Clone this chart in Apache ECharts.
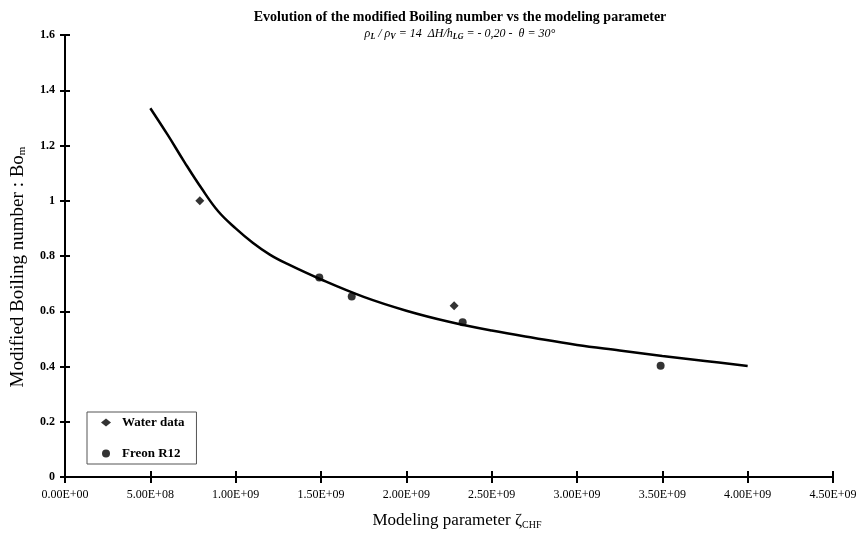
<!DOCTYPE html>
<html><head><meta charset="utf-8">
<script src="https://cdn.jsdelivr.net/npm/echarts@6/dist/echarts.min.js"></script>
<style>html,body{margin:0;padding:0;background:#fff}#c{width:864px;height:542px}</style>
</head><body><div id="c"></div>
<script>
// Correlation curve (modeling parameter, Bo_m)
const curveX = [5.0e8, 6.0e8, 7.0e8, 8.0e8, 9.0e8, 1.0e9, 1.1e9, 1.2e9, 1.3e9, 1.5e9, 1.75e9, 2.0e9, 2.25e9, 2.5e9, 2.75e9, 3.0e9, 3.25e9, 3.5e9, 3.75e9, 4.0e9];
const curveY = [1.335, 1.24, 1.14, 1.045, 0.96, 0.90, 0.848, 0.805, 0.772, 0.715, 0.652, 0.602, 0.562, 0.530, 0.503, 0.478, 0.458, 0.438, 0.420, 0.402];
// Water data
const waterX = [7.9e8, 2.28e9];
const waterY = [1.0, 0.62];
// Freon R12
const freonX = [1.49e9, 1.68e9, 2.33e9, 3.49e9];
const freonY = [0.722, 0.653, 0.56, 0.403];
// Axis ticks
const xTicks = [0, 5e8, 1e9, 1.5e9, 2e9, 2.5e9, 3e9, 3.5e9, 4e9, 4.5e9];
const yTicks = [0, 0.2, 0.4, 0.6, 0.8, 1, 1.2, 1.4, 1.6];

function fmtE(v){
  if (v === 0) return '0.00E+00';
  const e = Math.floor(Math.log10(Math.abs(v)) + 1e-9);
  const m = v / Math.pow(10, e);
  return m.toFixed(2) + 'E+' + String(e).padStart(2, '0');
}
const zip = (a, b) => a.map((v, i) => [v, b[i]]);
const F = 'Liberation Serif, Times New Roman, serif';

const axisCommon = {
  axisLine: {lineStyle: {color: '#000', width: 2}},
  splitLine: {show: false}
};

const chart = echarts.init(document.getElementById('c'));
chart.setOption({
  animation: false,
  backgroundColor: '#fff',
  title: {
    text: 'Evolution of the modified Boiling number vs the modeling parameter',
    left: 455, top: 5, textAlign: 'center',
    textStyle: {fontFamily: F, fontSize: 14, fontWeight: 'bold', color: '#000'},
    subtext: '{i|ρ}{s|L}{i| / ρ}{s|V}{i| = 14  ΔH/h}{s|LG}{i| = - 0,20 -  θ = 30°}',
    itemGap: 3,
    subtextStyle: {
      fontFamily: F, fontSize: 12, color: '#000',
      rich: {
        i: {fontFamily: F, fontSize: 12, fontStyle: 'italic', color: '#000'},
        s: {fontFamily: F, fontSize: 8, fontStyle: 'italic', fontWeight: 'bold', color: '#000', verticalAlign: 'bottom', padding: [6,0,0,0]}
      }
    }
  },
  legend: {
    left: 87, top: 412,
    orient: 'vertical', itemGap: 18, itemWidth: 10, itemHeight: 8,
    padding: [4, 12, 4, 14],
    borderColor: '#555', borderWidth: 1,
    textStyle: {fontFamily: F, fontSize: 13, fontWeight: 'bold', color: '#000', padding: [0, 0, 0, 6]},
    data: [{name: 'Water data', icon: 'diamond'}, {name: 'Freon R12', icon: 'circle'}]
  },
  grid: {left: 65, right: 31, top: 35, bottom: 65, containLabel: false, outerBoundsMode: 'none'},
  xAxis: [{
    ...axisCommon,
    type: 'value', min: xTicks[0], max: xTicks[xTicks.length - 1], interval: 5e8,
    name: '{n|Modeling parameter ζ}{s|CHF}', nameLocation: 'middle', nameGap: 34,
    nameTextStyle: {fontFamily: F, fontSize: 17, color: '#000', padding: [0, 0, 0, 16],
      rich: {n: {fontFamily: F, fontSize: 17, color: '#000'}, s: {fontFamily: F, fontSize: 10, color: '#000', padding: [9,0,0,0]}}},
    axisTick: {show: true, inside: false, length: 6, lineStyle: {color: '#000', width: 2}},
    axisLabel: {fontFamily: F, fontSize: 12, color: '#000', margin: 12, formatter: fmtE}
  }, {
    ...axisCommon,
    type: 'value', position: 'bottom', min: xTicks[0], max: xTicks[xTicks.length - 1], interval: 5e8,
    axisTick: {show: true, inside: true, length: 6, lineStyle: {color: '#000', width: 2}},
    axisLabel: {show: false}
  }],
  yAxis: [{
    ...axisCommon,
    type: 'value', min: yTicks[0], max: yTicks[yTicks.length - 1], interval: 0.2,
    name: '{n|Modified Boiling number : Bo}{s|m}', nameLocation: 'middle', nameGap: 37, nameRotate: 90,
    nameTextStyle: {fontFamily: F, fontSize: 19, color: '#000', padding: [0, 22, 0, 0],
      rich: {n: {fontFamily: F, fontSize: 19, color: '#000'}, s: {fontFamily: F, fontSize: 11, color: '#000', padding: [9,0,0,0]}}},
    axisTick: {show: true, inside: false, length: 5, lineStyle: {color: '#000', width: 2}},
    axisLabel: {fontFamily: F, fontSize: 12, fontWeight: 'bold', color: '#000', margin: 10}
  }, {
    ...axisCommon,
    type: 'value', position: 'left', min: yTicks[0], max: yTicks[yTicks.length - 1], interval: 0.2,
    axisTick: {show: true, inside: true, length: 5, lineStyle: {color: '#000', width: 2}},
    axisLabel: {show: false}
  }],
  series: [{
    name: 'Correlation', type: 'line', data: zip(curveX, curveY), smooth: 0.4,
    showSymbol: false, lineStyle: {color: '#000', width: 2.5}, z: 2
  }, {
    name: 'Water data', type: 'scatter', data: zip(waterX, waterY),
    symbol: 'diamond', symbolSize: 9, itemStyle: {color: '#000'}, z: 3
  }, {
    name: 'Freon R12', type: 'scatter', data: zip(freonX, freonY),
    symbol: 'circle', symbolSize: 8, itemStyle: {color: '#000'}, z: 3
  }]
});
</script>
</body></html>
